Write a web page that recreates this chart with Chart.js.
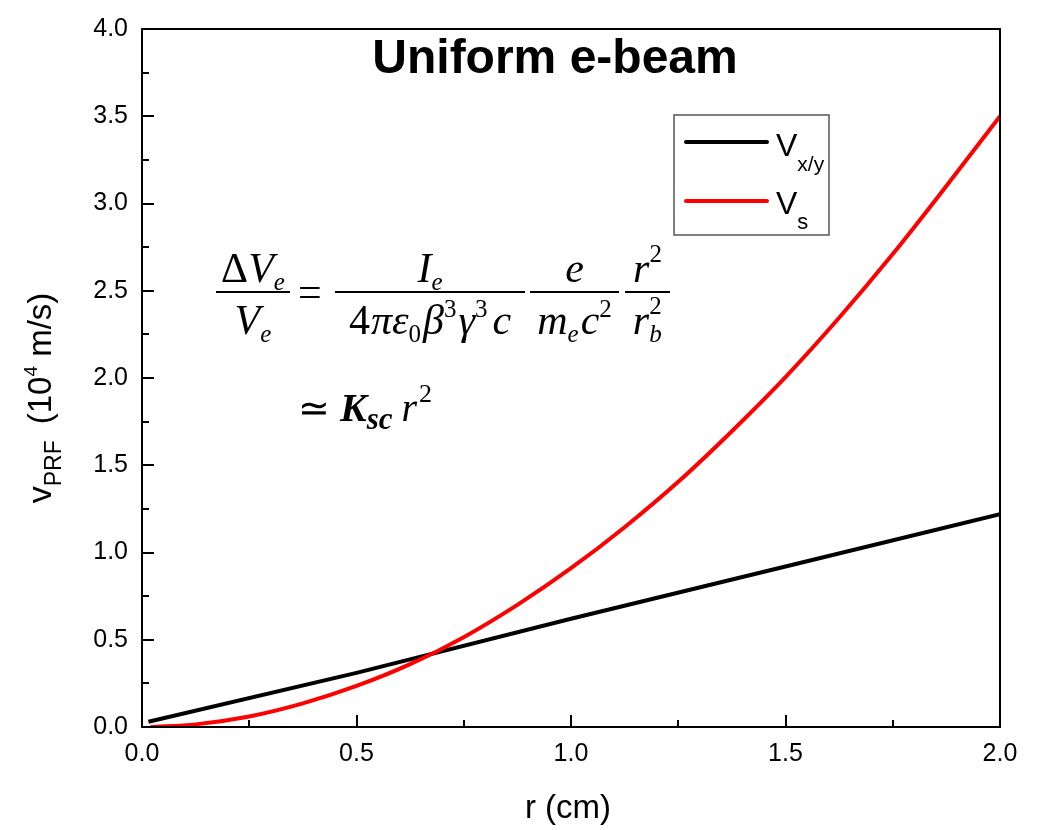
<!DOCTYPE html>
<html>
<head>
<meta charset="utf-8">
<script src="https://cdn.jsdelivr.net/npm/chart.js@4"></script>
<style>
  body { margin: 0; background: #fff; }
  canvas { display: block; }
</style>
</head>
<body>
<canvas id="myChart" width="1043" height="830"></canvas>
<script>
// radius r (cm) and PRF velocity (10^4 m/s)
const rTransverse = [0.015, 0.5, 1.0, 1.5, 2.0]
const vTransverse = [0.03, 0.31, 0.62, 0.92, 1.22]

const rLongitudinal = [0.02, 0.125, 0.25, 0.375, 0.5, 0.625, 0.75, 0.875, 1.0,
    1.125, 1.25, 1.375, 1.5, 1.625, 1.75, 1.875, 2.0]
const vLongitudinal = [0.0, 0.015, 0.06, 0.135, 0.235, 0.36, 0.515, 0.70, 0.91,
    1.145, 1.405, 1.695, 2.005, 2.345, 2.71, 3.10, 3.50]

const xTicks = [0, 0.5, 1.0, 1.5, 2.0]
const yTicks = [0, 0.5, 1.0, 1.5, 2.0, 2.5, 3.0, 3.5, 4.0]

const SANS = "'Liberation Sans', Arial, sans-serif"
const SERIF = "'Liberation Serif', 'Times New Roman', serif"

function toPoints(xs, ys) {
    return xs.map((x, i) => ({ x: x, y: ys[i] }))
}

// draws a run of text pieces left to right, returns the end x
function drawRun(ctx, x, y, parts, measureOnly) {
    let cx = x
    for (const p of parts) {
        ctx.font = p.font
        if (!measureOnly) ctx.fillText(p.t, cx + (p.dx || 0), y + (p.dy || 0))
        cx += ctx.measureText(p.t).width + (p.dx || 0) + (p.gap || 0)
    }
    return cx
}

function runWidth(ctx, parts) {
    return drawRun(ctx, 0, 0, parts, true)
}

function drawCentered(ctx, x0, x1, y, parts) {
    const w = runWidth(ctx, parts)
    drawRun(ctx, (x0 + x1) / 2 - w / 2, y, parts)
}

const it = (s) => 'italic ' + s + 'px ' + SERIF
const up = (s) => s + 'px ' + SERIF

const framePlugin = {
    id: 'frame',
    afterDatasetsDraw(chart) {
        const ctx = chart.ctx
        const a = chart.chartArea
        const xs = chart.scales.x
        const ys = chart.scales.y
        ctx.save()
        ctx.strokeStyle = '#000'
        ctx.lineWidth = 2
        ctx.strokeRect(a.left, a.top, a.right - a.left, a.bottom - a.top)

        // inward ticks on bottom and left
        ctx.beginPath()
        for (let v = 0; v <= 2.0001; v += 0.25) {
            const px = Math.round(xs.getPixelForValue(v))
            const len = Math.abs(v / 0.5 - Math.round(v / 0.5)) < 0.01 ? 12 : 7
            ctx.moveTo(px, a.bottom)
            ctx.lineTo(px, a.bottom - len)
        }
        for (let v = 0; v <= 4.0001; v += 0.25) {
            const py = Math.round(ys.getPixelForValue(v))
            const len = Math.abs(v / 0.5 - Math.round(v / 0.5)) < 0.01 ? 12 : 7
            ctx.moveTo(a.left, py)
            ctx.lineTo(a.left + len, py)
        }
        ctx.stroke()
        ctx.restore()
    },
    afterDraw(chart) {
        const ctx = chart.ctx
        ctx.save()
        ctx.fillStyle = '#000'
        ctx.textBaseline = 'alphabetic'

        // title
        ctx.font = 'bold 48px ' + SANS
        ctx.textAlign = 'center'
        ctx.fillText('Uniform e-beam', 555, 73)

        // x axis title
        ctx.font = '33px ' + SANS
        ctx.fillText('r (cm)', 568, 818)
        ctx.textAlign = 'left'

        // y axis title, rotated
        ctx.save()
        ctx.translate(51, 398)
        ctx.rotate(-Math.PI / 2)
        const yTitle = [
            { t: 'v', font: '34px ' + SANS },
            { t: 'PRF', font: '23px ' + SANS, dy: 10, gap: 16 },
            { t: '(10', font: '33px ' + SANS },
            { t: '4', font: '19px ' + SANS, dy: -14 },
            { t: ' m/s)', font: '33px ' + SANS }
        ]
        drawRun(ctx, -runWidth(ctx, yTitle) / 2, 0, yTitle)
        ctx.restore()

        // legend box
        ctx.strokeStyle = '#555'
        ctx.lineWidth = 1.5
        ctx.strokeRect(674, 115, 155, 120)
        ctx.lineWidth = 4
        ctx.lineCap = 'round'
        ctx.strokeStyle = '#000'
        ctx.beginPath(); ctx.moveTo(686, 142); ctx.lineTo(767, 142); ctx.stroke()
        ctx.strokeStyle = '#ff0000'
        ctx.beginPath(); ctx.moveTo(686, 201); ctx.lineTo(767, 201); ctx.stroke()
        drawRun(ctx, 776, 156, [
            { t: 'V', font: '32px ' + SANS },
            { t: 'x/y', font: '21px ' + SANS, dy: 15 }
        ])
        drawRun(ctx, 776, 214, [
            { t: 'V', font: '32px ' + SANS },
            { t: 's', font: '22px ' + SANS, dy: 15 }
        ])

        // space-charge relation
        const F = 42
        ctx.fillRect(216, 291, 74, 2)
        ctx.fillRect(335, 291, 190, 2)
        ctx.fillRect(530, 291, 89, 2)
        ctx.fillRect(625, 291, 45, 2)

        drawCentered(ctx, 216, 290, 282, [
            { t: '\u0394', font: up(F) },
            { t: 'V', font: it(F) },
            { t: 'e', font: it(25), dy: 8 }
        ])
        drawCentered(ctx, 216, 290, 334, [
            { t: 'V', font: it(F) },
            { t: 'e', font: it(25), dy: 8 }
        ])
        ctx.font = up(F)
        ctx.fillText('=', 298, 306)

        drawCentered(ctx, 335, 525, 282, [
            { t: 'I', font: it(F) },
            { t: 'e', font: it(25), dy: 8 }
        ])
        drawCentered(ctx, 335, 525, 334, [
            { t: '4', font: up(F), gap: 1 },
            { t: '\u03c0', font: it(F) },
            { t: '\u03b5', font: it(F) },
            { t: '0', font: up(25), dy: 8, gap: 2 },
            { t: '\u03b2', font: it(F) },
            { t: '3', font: up(25), dy: -17, gap: 2 },
            { t: '\u03b3', font: it(F) },
            { t: '3', font: up(25), dy: -17, gap: 5 },
            { t: 'c', font: it(F) }
        ])

        drawCentered(ctx, 530, 619, 282, [{ t: 'e', font: it(F) }])
        drawCentered(ctx, 530, 619, 334, [
            { t: 'm', font: it(F) },
            { t: 'e', font: it(25), dy: 8, gap: 2 },
            { t: 'c', font: it(F) },
            { t: '2', font: up(25), dy: -17 }
        ])

        drawCentered(ctx, 625, 670, 282, [
            { t: 'r', font: it(F) },
            { t: '2', font: up(25), dy: -20 }
        ])
        ctx.font = it(F)
        const rw = ctx.measureText('r').width
        const rx = 647 - (rw + 12) / 2
        ctx.fillText('r', rx, 334)
        ctx.font = up(25)
        ctx.fillText('2', rx + rw, 314)
        ctx.font = it(25)
        ctx.fillText('b', rx + rw, 342)

        // second line
        drawRun(ctx, 298, 421, [
            { t: '\u2243', font: up(38), gap: 10 },
            { t: 'K', font: 'bold italic 40px ' + SERIF },
            { t: 'sc', font: 'bold italic 31px ' + SERIF, dy: 8, gap: 9 },
            { t: 'r', font: it(40), gap: 2 },
            { t: '2', font: up(26), dy: -19 }
        ])
        ctx.restore()
    }
}

const ctx = document.getElementById('myChart').getContext('2d')
window.myChart = new Chart(ctx, {
    type: 'line',
    data: {
        datasets: [
            {
                label: 'Vx/y',
                data: toPoints(rTransverse, vTransverse),
                borderColor: '#000000',
                borderWidth: 4,
                pointRadius: 0,
                order: 1
            },
            {
                label: 'Vs',
                data: toPoints(rLongitudinal, vLongitudinal),
                borderColor: '#ff0000',
                borderWidth: 4,
                pointRadius: 0,
                cubicInterpolationMode: 'monotone',
                order: 0
            }
        ]
    },
    options: {
        responsive: false,
        animation: false,
        devicePixelRatio: 1,
        layout: { padding: { left: 0, top: 22, right: 43, bottom: 0 } },
        plugins: {
            legend: { display: false },
            tooltip: { enabled: false }
        },
        scales: {
            x: {
                type: 'linear',
                min: 0,
                max: 2,
                grid: { display: false, drawTicks: false },
                border: { display: false },
                afterBuildTicks: (s) => { s.ticks = xTicks.map(v => ({ value: v })) },
                afterFit: (s) => { s.height = 103 },
                ticks: {
                    padding: 12,
                    color: '#000',
                    font: { family: SANS, size: 25 },
                    maxRotation: 0,
                    callback: (v) => Number(v).toFixed(1)
                }
            },
            y: {
                min: 0,
                max: 4,
                grid: { display: false, drawTicks: false },
                border: { display: false },
                afterBuildTicks: (s) => { s.ticks = yTicks.map(v => ({ value: v })) },
                afterFit: (s) => { s.width = 142 },
                ticks: {
                    padding: 14,
                    color: '#000',
                    font: { family: SANS, size: 25 },
                    callback: (v) => Number(v).toFixed(1)
                }
            }
        }
    },
    plugins: [framePlugin]
})
</script>
</body>
</html>
